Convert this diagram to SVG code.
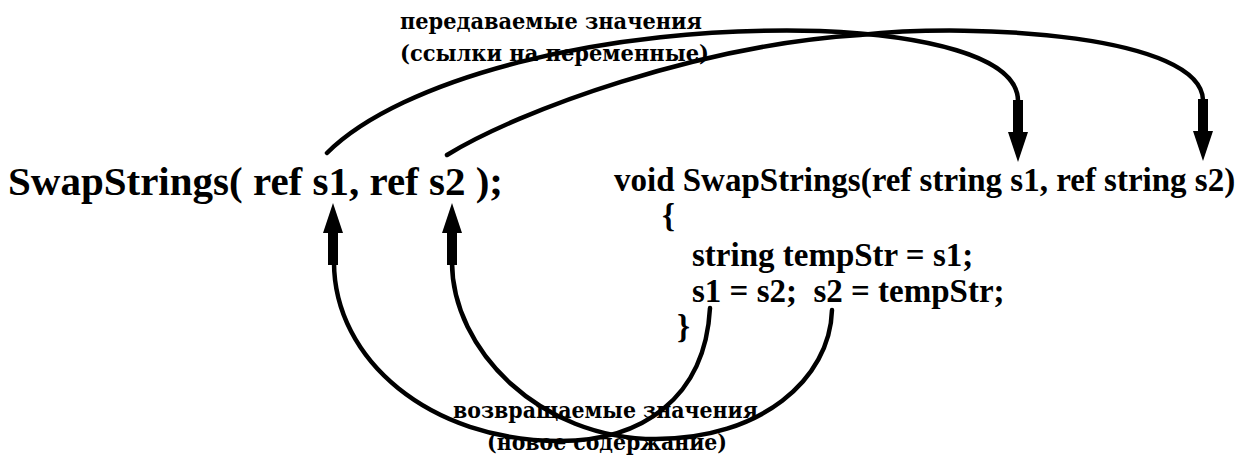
<svg xmlns="http://www.w3.org/2000/svg" xmlns:xlink="http://www.w3.org/1999/xlink" width="1248" height="456" viewBox="0 0 1248 456">
  <style>
    .code { font-family: "Liberation Serif", "Times New Roman", serif; font-weight: bold; fill: #000; }
    .lbl { font-family: "DejaVu Serif", "Liberation Serif", serif; font-weight: bold; font-size: 22px; fill: #000; }
    .conn { fill: none; stroke: #000; stroke-width: 4.5; stroke-linecap: round; }
    .head { fill: #000; }
  </style>
  <defs>
    <path id="arrow" d="M-5,-62 H5 V-30 H10 L0,0 L-10,-30 H-5 Z"/>
  </defs>
  <rect x="0" y="0" width="1248" height="456" fill="#fff"/>

  <g id="call">
    <text class="code" x="8" y="195" font-size="41">SwapStrings( ref s1, ref s2 );</text>
  </g>

  <g id="definition">
    <text class="code" x="614" y="191" font-size="33">void SwapStrings(ref string s1, ref string s2)</text>
    <text class="code" x="662" y="227" font-size="33">{</text>
    <text class="code" x="692" y="266" font-size="33">string tempStr = s1;</text>
    <text class="code" x="692" y="302" font-size="33" xml:space="preserve">s1 = s2;  s2 = tempStr;</text>
    <text class="code" x="677" y="338" font-size="33">}</text>
  </g>

  <g id="label-passed">
    <text class="lbl" x="400" y="29" textLength="302" lengthAdjust="spacingAndGlyphs">передаваемые значения</text>
    <text class="lbl" x="400" y="61" textLength="309" lengthAdjust="spacingAndGlyphs">(ссылки на переменные)</text>
  </g>

  <g id="label-returned">
    <text class="lbl" x="453" y="418" textLength="305" lengthAdjust="spacingAndGlyphs">возвращаемые значения</text>
    <text class="lbl" x="487" y="450" textLength="240" lengthAdjust="spacingAndGlyphs">(новое содержание)</text>
  </g>

  <g id="connectors">
    <!-- passed: call s1 -> def s1 -->
    <path class="conn" d="M327,153 C400,80 600,25 820,31 C920,35 1018,55 1018,101"/>
    <!-- passed: call s2 -> def s2 -->
    <path class="conn" d="M447,155 C520,110 700,45 860,35 C980,22 1201,36 1203,100"/>
    <use xlink:href="#arrow" class="head" transform="translate(1018,162)"/>
    <use xlink:href="#arrow" class="head" transform="translate(1203,161)"/>

    <!-- returned: body s1 -> call s1 -->
    <path class="conn" d="M710,308 C705,400 640,441 560,441 C430,441 334,360 334,262"/>
    <!-- returned: body s2 -> call s2 -->
    <path class="conn" d="M832,310 C830,380 760,439 656,439 C540,439 452,350 452,262"/>
    <use xlink:href="#arrow" class="head" transform="translate(333,203) rotate(180)"/>
    <use xlink:href="#arrow" class="head" transform="translate(452,203) rotate(180)"/>
  </g>
</svg>
